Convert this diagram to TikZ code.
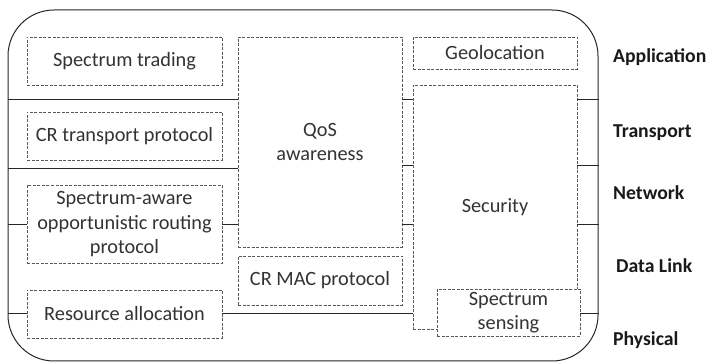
\documentclass[tikz,border=0pt]{standalone}
\usepackage{fontspec}
\setmainfont{Carlito}
\begin{document}
\begin{tikzpicture}[x=1pt,y=-1pt,
  box/.style={draw=black!65, dash pattern=on 3pt off 1.5pt, line width=0.8pt,
    fill=white, text=black!80, align=center, inner sep=0pt,
    font=\fontsize{20.3}{24.5}\selectfont},
  link/.style={draw=black!85, line width=1pt},
  layer/.style={anchor=west, inner sep=0pt, text=black!90,
    font=\bfseries\fontsize{19.7}{22}\selectfont}]
\useasboundingbox (0,0) rectangle (713,363);

% outer frame
\node[draw=black!85, line width=1pt, rounded corners=46pt,
      minimum width=590pt, minimum height=351pt, inner sep=0pt] (frame) at (303,185.5) {};

% left column
\node[box, minimum width=195pt, minimum height=48pt] (st)  at (124.5,61)  {Spectrum trading};
\node[box, minimum width=195pt, minimum height=48pt] (crt) at (124.5,136) {CR transport protocol};
\node[box, minimum width=195pt, minimum height=78pt] (sa)  at (124.5,224.5) {Spectrum-aware\\opportunistic routing\\protocol};
\node[box, minimum width=195pt, minimum height=48pt] (ra)  at (124.5,314) {Resource allocation};

% middle column
\node[box, minimum width=164pt, minimum height=210pt] (qos) at (320,142) {QoS\\awareness};
\node[box, minimum width=164pt, minimum height=49pt]  (mac) at (320,280.5) {CR MAC protocol};

% right column
\node[box, minimum width=164pt, minimum height=32pt]  (geo)  at (495,53)  {Geolocation};
\node[box, minimum width=164pt, minimum height=244pt] (sec)  at (495,207) {Security};
\node[box, minimum width=143pt, minimum height=47pt]  (sens) at (508.5,312.5) {Spectrum\\sensing};

% layer boundaries
\draw[link] (frame.west |- 0,100) -- (qos.west |- 0,100);
\draw[link] (qos.east |- 0,100) -- (sec.west |- 0,100);
\draw[link] (sec.east |- 0,100) -- (frame.east |- 0,100);

\draw[link] (frame.west |- 0,169) -- (qos.west |- 0,169);
\draw[link] (qos.east |- 0,166) -- (sec.west |- 0,166);
\draw[link] (sec.east |- 0,166) -- (frame.east |- 0,166);

\draw[link] (frame.west |- sa.west) -- (sa.west);
\draw[link] (sa.east) -- (qos.west |- sa.east);
\draw[link] (qos.east |- sa.east) -- (sec.west |- sa.east);
\draw[link] (sec.east |- sa.east) -- (frame.east |- sa.east);

\draw[link] (frame.west |- ra.west) -- (ra.west);
\draw[link] (ra.east) -- (sec.west |- ra.east);
\draw[link] (sens.east |- ra.east) -- (frame.east |- ra.east);

% layer names
\node[layer] (app) at (613,57)  {Application};
\node[layer] (tra) at (613,133) {Transport};
\node[layer] (net) at (613,193) {Network};
\node[layer] (dl)  at (616,266) {Data Link};
\node[layer] (phy) at (613,340) {Physical};
\end{tikzpicture}
\end{document}
